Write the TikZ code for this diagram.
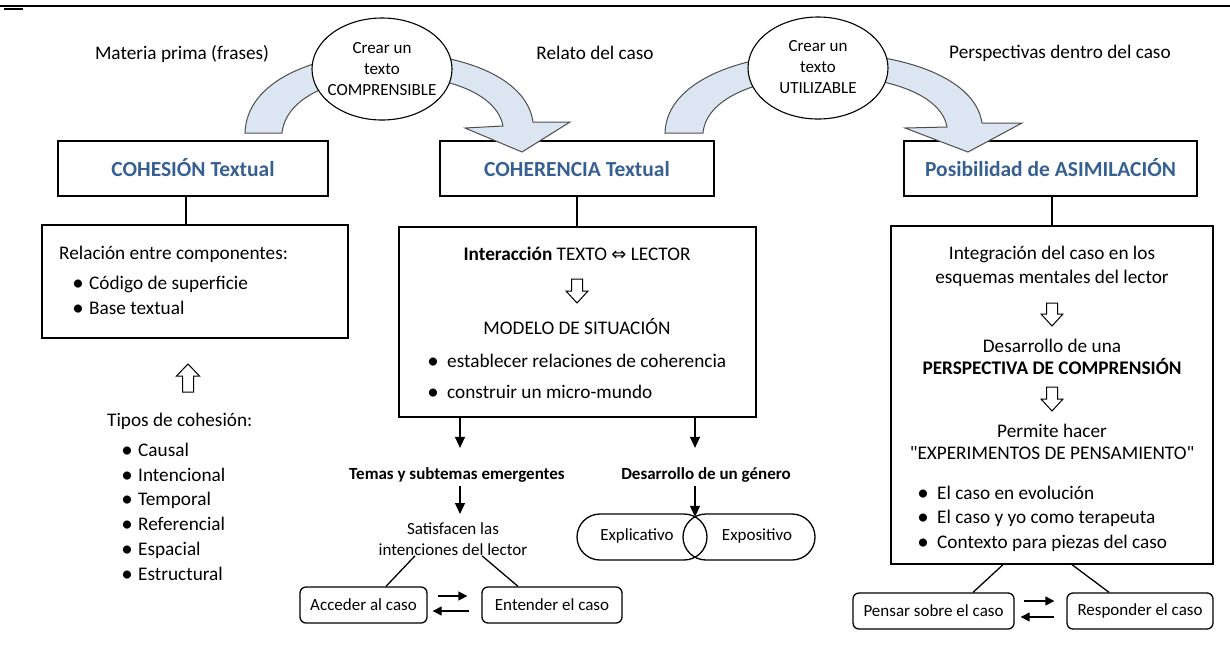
\documentclass[tikz,border=0pt]{standalone}
\usepackage{fontspec}
\setmainfont{Carlito}
\newfontfamily\qf{Carlito}
\newfontfamily\symf{DejaVu Sans}
\usetikzlibrary{shapes.geometric,arrows.meta,calc}
\definecolor{arrfill}{HTML}{DCE6F2}
\definecolor{arrline}{HTML}{4D4D4D}
\definecolor{titleblue}{HTML}{376092}
\newcommand\fbody{\fontsize{19.25}{24}\selectfont}
\newcommand\fsmall{\fontsize{17}{21}\selectfont}
\newcommand\ftitle{\fontsize{21.5}{25}\selectfont\bfseries\color{titleblue}}
\newcommand\itm[2]{\makebox[0pt][c]{\raisebox{-1pt}{\fontsize{23}{24}\selectfont•}}\hspace{#1}#2}
\newcommand\sq{{\qf"}}
\begin{document}
\begin{tikzpicture}[x=1pt,y=-1pt,
  txt/.style={inner sep=0pt, anchor=base, font=\fbody},
  txtl/.style={txt, anchor=base west},
  stxt/.style={inner sep=0pt, anchor=base, font=\fsmall},
  box/.style={draw, line width=1.3pt, inner sep=0pt},
  tbox/.style={box, font=\ftitle, text height=15pt, text depth=0pt},
  rbox/.style={box, rounded corners=6pt, font=\fsmall},
  arr/.style={line width=1.3pt, -{Triangle[length=11pt,width=10pt]}},
  sarr/.style={line width=1.3pt, -{Triangle[length=9pt,width=9pt]}},
  curv/.style={fill=arrfill, draw=arrline, line width=1pt, line join=miter},
  hollow/.style={draw, fill=white, line width=1pt, line join=miter},
  cline/.style={line width=1.3pt},
  oval/.style={draw, ellipse, fill=white, line width=1.1pt, inner sep=0pt}]
\useasboundingbox (0,0) rectangle (1230,657);
% header rule
\draw[line width=1.2pt] (0,6) -- (1230,6);
\draw[line width=1.8pt] (4,9) -- (23,9);

% top labels
\node[txt] (lm) at (182,59) {Materia prima (frases)};
\node[txt] (lr) at (595,59) {Relato del caso};
\node[txtl] (lp) at (949,58) {Perspectivas dentro del caso};

% title boxes
\node[tbox, minimum width=270pt, minimum height=55pt] (t1) at (193,168.5) {COHESIÓN Textual};
\node[tbox, minimum width=274pt, minimum height=55pt] (t2) at (577,168.5) {COHERENCIA Textual};
\node[tbox, minimum width=293pt, minimum height=55pt] (t3) at (1050.5,168.5) {Posibilidad de ASIMILACIÓN};

% curved block arrows
\draw[curv] (245,133) .. controls (248,28) and (520,28) .. (533,122) -- (570,122) -- (522,152) -- (465,128) -- (503,126) .. controls (490,58) and (290,58) .. (282,133) -- cycle;
\draw[curv] (665,133) .. controls (668,28) and (968,28) .. (982,123) -- (1022,123) -- (968,152) -- (905,128) -- (947,127) .. controls (935,58) and (710,58) .. (703,133) -- cycle;

% ovals
\node[oval, minimum width=140pt, minimum height=102pt] (e1) at (382,69) {};
\node[stxt, align=center, anchor=center] (e1t) at (e1.center) {Crear un\\texto\\COMPRENSIBLE};
\node[oval, minimum width=140pt, minimum height=102pt] (e2) at (818,68) {};
\node[stxt, align=center, anchor=center] (e2t) at ([yshift=1pt]e2.center) {Crear un\\texto\\UTILIZABLE};

% content boxes
\node[box, minimum width=306pt, minimum height=113pt] (b1) at (195,281.5) {};
\node[box, minimum width=357pt, minimum height=190pt] (b2) at (577.5,322) {};
\node[box, minimum width=322pt, minimum height=338pt] (b3) at (1052,395) {};
\draw[cline] ([xshift=-7pt]t1.south) -- ([xshift=-7pt]t1.south |- b1.north);
\draw[cline] (t2.south) -- (t2.south |- b2.north);
\draw[cline] (b3.north |- t3.south) -- (b3.north);

% box 1
\node[txtl] (r1) at (59,259) {Relación entre componentes:};
\node[txtl] (r2) at (78,289) {\itm{11pt}{Código de superficie}};
\node[txtl] (r3) at (78,314) {\itm{11pt}{Base textual}};
\draw[hollow] (188,364) -- (199.5,376) -- (193.5,376) -- (193.5,392) -- (182.5,392) -- (182.5,376) -- (176.5,376) -- cycle;
\node[txtl] (tp) at (107,426) {Tipos de cohesión:};
\node[txtl] (c1) at (127,456) {\itm{11pt}{Causal}};
\node[txtl] (c2) at (127,481) {\itm{11pt}{Intencional}};
\node[txtl] (c3) at (127,505) {\itm{11pt}{Temporal}};
\node[txtl] (c4) at (127,530) {\itm{11pt}{Referencial}};
\node[txtl] (c5) at (127,555) {\itm{11pt}{Espacial}};
\node[txtl] (c6) at (127,580) {\itm{11pt}{Estructural}};

% box 2
\node[txt] (i1) at (577,260) {\textbf{Interacción} TEXTO {\symf\fontsize{18}{20}\selectfont ⇔} LECTOR};
\draw[hollow] (571.5,279) -- (582.5,279) -- (582.5,291) -- (588,291) -- (577,303) -- (566,291) -- (571.5,291) -- cycle;
\node[txt] (ms) at (577,334) {MODELO DE SITUACIÓN};
\node[txtl] (m1) at (433,367) {\itm{14pt}{establecer relaciones de coherencia}};
\node[txtl] (m2) at (433,398) {\itm{14pt}{construir un micro-mundo}};

% box 3
\node[txt] (g1) at (1052,259) {Integración del caso en los};
\node[txt] (g2) at (1052,283) {esquemas mentales del lector};
\draw[hollow] (1046.5,303) -- (1057.5,303) -- (1057.5,314) -- (1063,314) -- (1052,326) -- (1041,314) -- (1046.5,314) -- cycle;
\node[txt] (g3) at (1052,352) {Desarrollo de una};
\node[txt] (g4) at (1052,374) {\textbf{PERSPECTIVA DE COMPRENSIÓN}};
\draw[hollow] (1046.5,387) -- (1057.5,387) -- (1057.5,399) -- (1063,399) -- (1052,411) -- (1041,399) -- (1046.5,399) -- cycle;
\node[txt] (g5) at (1052,437) {Permite hacer};
\node[txt] (g6) at (1052,459) {\sq EXPERIMENTOS DE PENSAMIENTO\sq};
\node[txtl] (p1) at (923,499) {\itm{14pt}{El caso en evolución}};
\node[txtl] (p2) at (923,523) {\itm{14pt}{El caso y yo como terapeuta}};
\node[txtl] (p3) at (923,548) {\itm{14pt}{Contexto para piezas del caso}};

% lower middle
\node[stxt, font=\fsmall\bfseries] (tm) at (457,479.5) {Temas y subtemas emergentes};
\node[stxt, font=\fsmall\bfseries] (gn) at (706,479.5) {Desarrollo de un género};
\node[stxt, align=center] (sat) at (453,555.5) {Satisfacen las\\intenciones del lector};
\draw[arr, shorten >=19.5pt] ([xshift=3pt]b2.south -| tm.north) -- ([xshift=3pt]tm.north);
\draw[arr, shorten <=3pt, shorten >=8.5pt] ([xshift=3pt]tm.south) -- ([xshift=3pt]tm.south |- sat.north);
\draw[arr, shorten >=19.5pt] ([xshift=-11pt]b2.south -| gn.north) -- ([xshift=-11pt]gn.north);

\node[box, rounded corners=23pt, minimum width=130pt, minimum height=46pt] (sx1) at (642,537) {};
\node[box, rounded corners=23pt, minimum width=132pt, minimum height=46pt] (sx2) at (749,537) {};
\node[stxt] (ex1) at (637,540.5) {Explicativo};
\node[stxt] (ex2) at (757,540.5) {Expositivo};
\coordinate (gx) at (695,516.8);
\draw[arr, shorten <=3pt] ([xshift=-11pt]gn.south) -- (gx);

% bottom small boxes
\node[rbox, minimum width=127pt, minimum height=36pt] (acc) at (363.5,605) {Acceder al caso};
\node[rbox, minimum width=140pt, minimum height=36pt] (ent) at (552,605) {Entender el caso};
\draw[cline] ([xshift=-38pt]sat.south) -- ([xshift=22.5pt]acc.north);
\draw[cline] ([xshift=29pt]sat.south) -- ([xshift=-34pt]ent.north);
\draw[sarr, shorten <=10pt, shorten >=14pt] ([yshift=9pt]acc.east) -- ([yshift=9pt]ent.west);
\draw[sarr, shorten <=12pt, shorten >=5pt] ([yshift=-6pt]ent.west) -- ([yshift=-6pt]acc.east);

\node[rbox, minimum width=161pt, minimum height=36pt] (pen) at (933.5,611) {Pensar sobre el caso};
\node[rbox, minimum width=146pt, minimum height=36pt] (res) at (1140,611) {Responder el caso};
\draw[cline] ([xshift=-49pt]b3.south) -- ([xshift=39.5pt]pen.north);
\draw[cline] ([xshift=20pt]b3.south) -- ([xshift=-31pt]res.north);
\draw[sarr, shorten <=9pt, shorten >=12pt] ([yshift=10pt]pen.east) -- ([yshift=10pt]res.west);
\draw[sarr, shorten <=12pt, shorten >=6pt] ([yshift=-6pt]res.west) -- ([yshift=-6pt]pen.east);
\end{tikzpicture}
\end{document}
